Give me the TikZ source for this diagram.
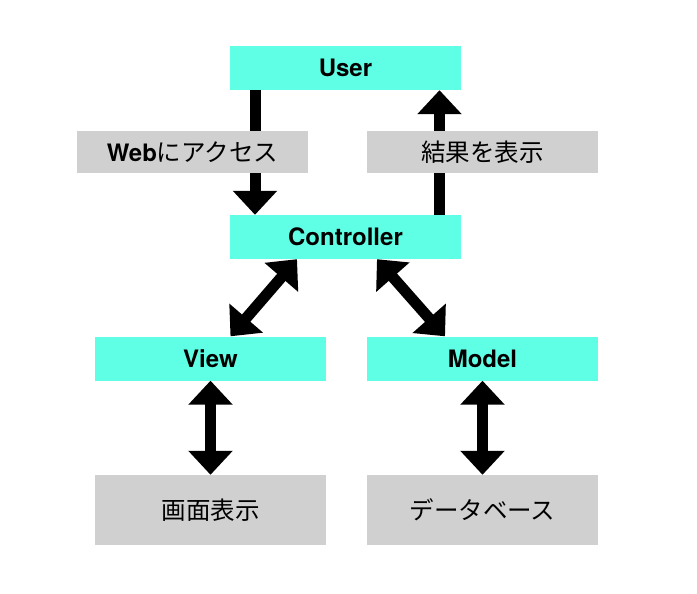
\documentclass[tikz,border=0pt]{standalone}
\usepackage{fontspec}
\setsansfont{TeX Gyre Heros}
\newfontfamily\jpfont{Noto Sans CJK JP}
\usetikzlibrary{arrows.meta,backgrounds}
\definecolor{mvccyan}{RGB}{95,255,230}
\definecolor{lblgray}{RGB}{208,208,208}

\begin{document}
\begin{tikzpicture}[
  x=1pt, y=-1pt,
  font=\sffamily,
  >={Triangle[length=24pt,width=43pt]},
  part/.style={fill=mvccyan, minimum width=231pt, minimum height=44pt, inner sep=0pt, font=\fontsize{24}{26}\selectfont\bfseries\sffamily},
  lbl/.style={fill=lblgray, minimum width=231pt, minimum height=42pt, inner sep=0pt, font=\fontsize{24.5}{26}\selectfont\jpfont},
  store/.style={lbl, minimum height=70pt},
  flow/.style={line width=11pt, draw=black}
]
\useasboundingbox (0,0) rectangle (697,594);

% Top: user and controller
\node[part] (user) at (345.5,68) {User};
\node[part] (ctrl) at (345.5,237) {Controller};

\node[lbl] (access) at (192.5,152) {{\fontsize{24}{26}\selectfont\bfseries\sffamily Web}にアクセス};
\node[lbl] (result) at (482.5,152) {結果を表示};

% View and model
\node[part] (view) at (210.5,358.5) {View};
\node[part] (model) at (482.5,358.5) {Model};

% Bottom boxes
\node[store] (screen) at (210.5,510) {画面表示};
\node[store] (db) at (482.5,510) {データベース};

% Arrows
\begin{scope}[on background layer]
\draw[flow,->] ([xshift=-90.5pt]user.south) -- ([xshift=-90.5pt]ctrl.north);
\draw[flow,->] ([xshift=94pt]ctrl.north) -- ([xshift=94pt]user.south);
\end{scope}
\draw[flow,<->] ([xshift=-48.5pt]ctrl.south) -- ([xshift=20pt]view.north);
\draw[flow,<->] ([xshift=31.5pt]ctrl.south) -- ([xshift=-37.5pt]model.north);
\draw[flow,<->] (view.south) -- (screen.north);
\draw[flow,<->] (model.south) -- (db.north);

\end{tikzpicture}
\end{document}
